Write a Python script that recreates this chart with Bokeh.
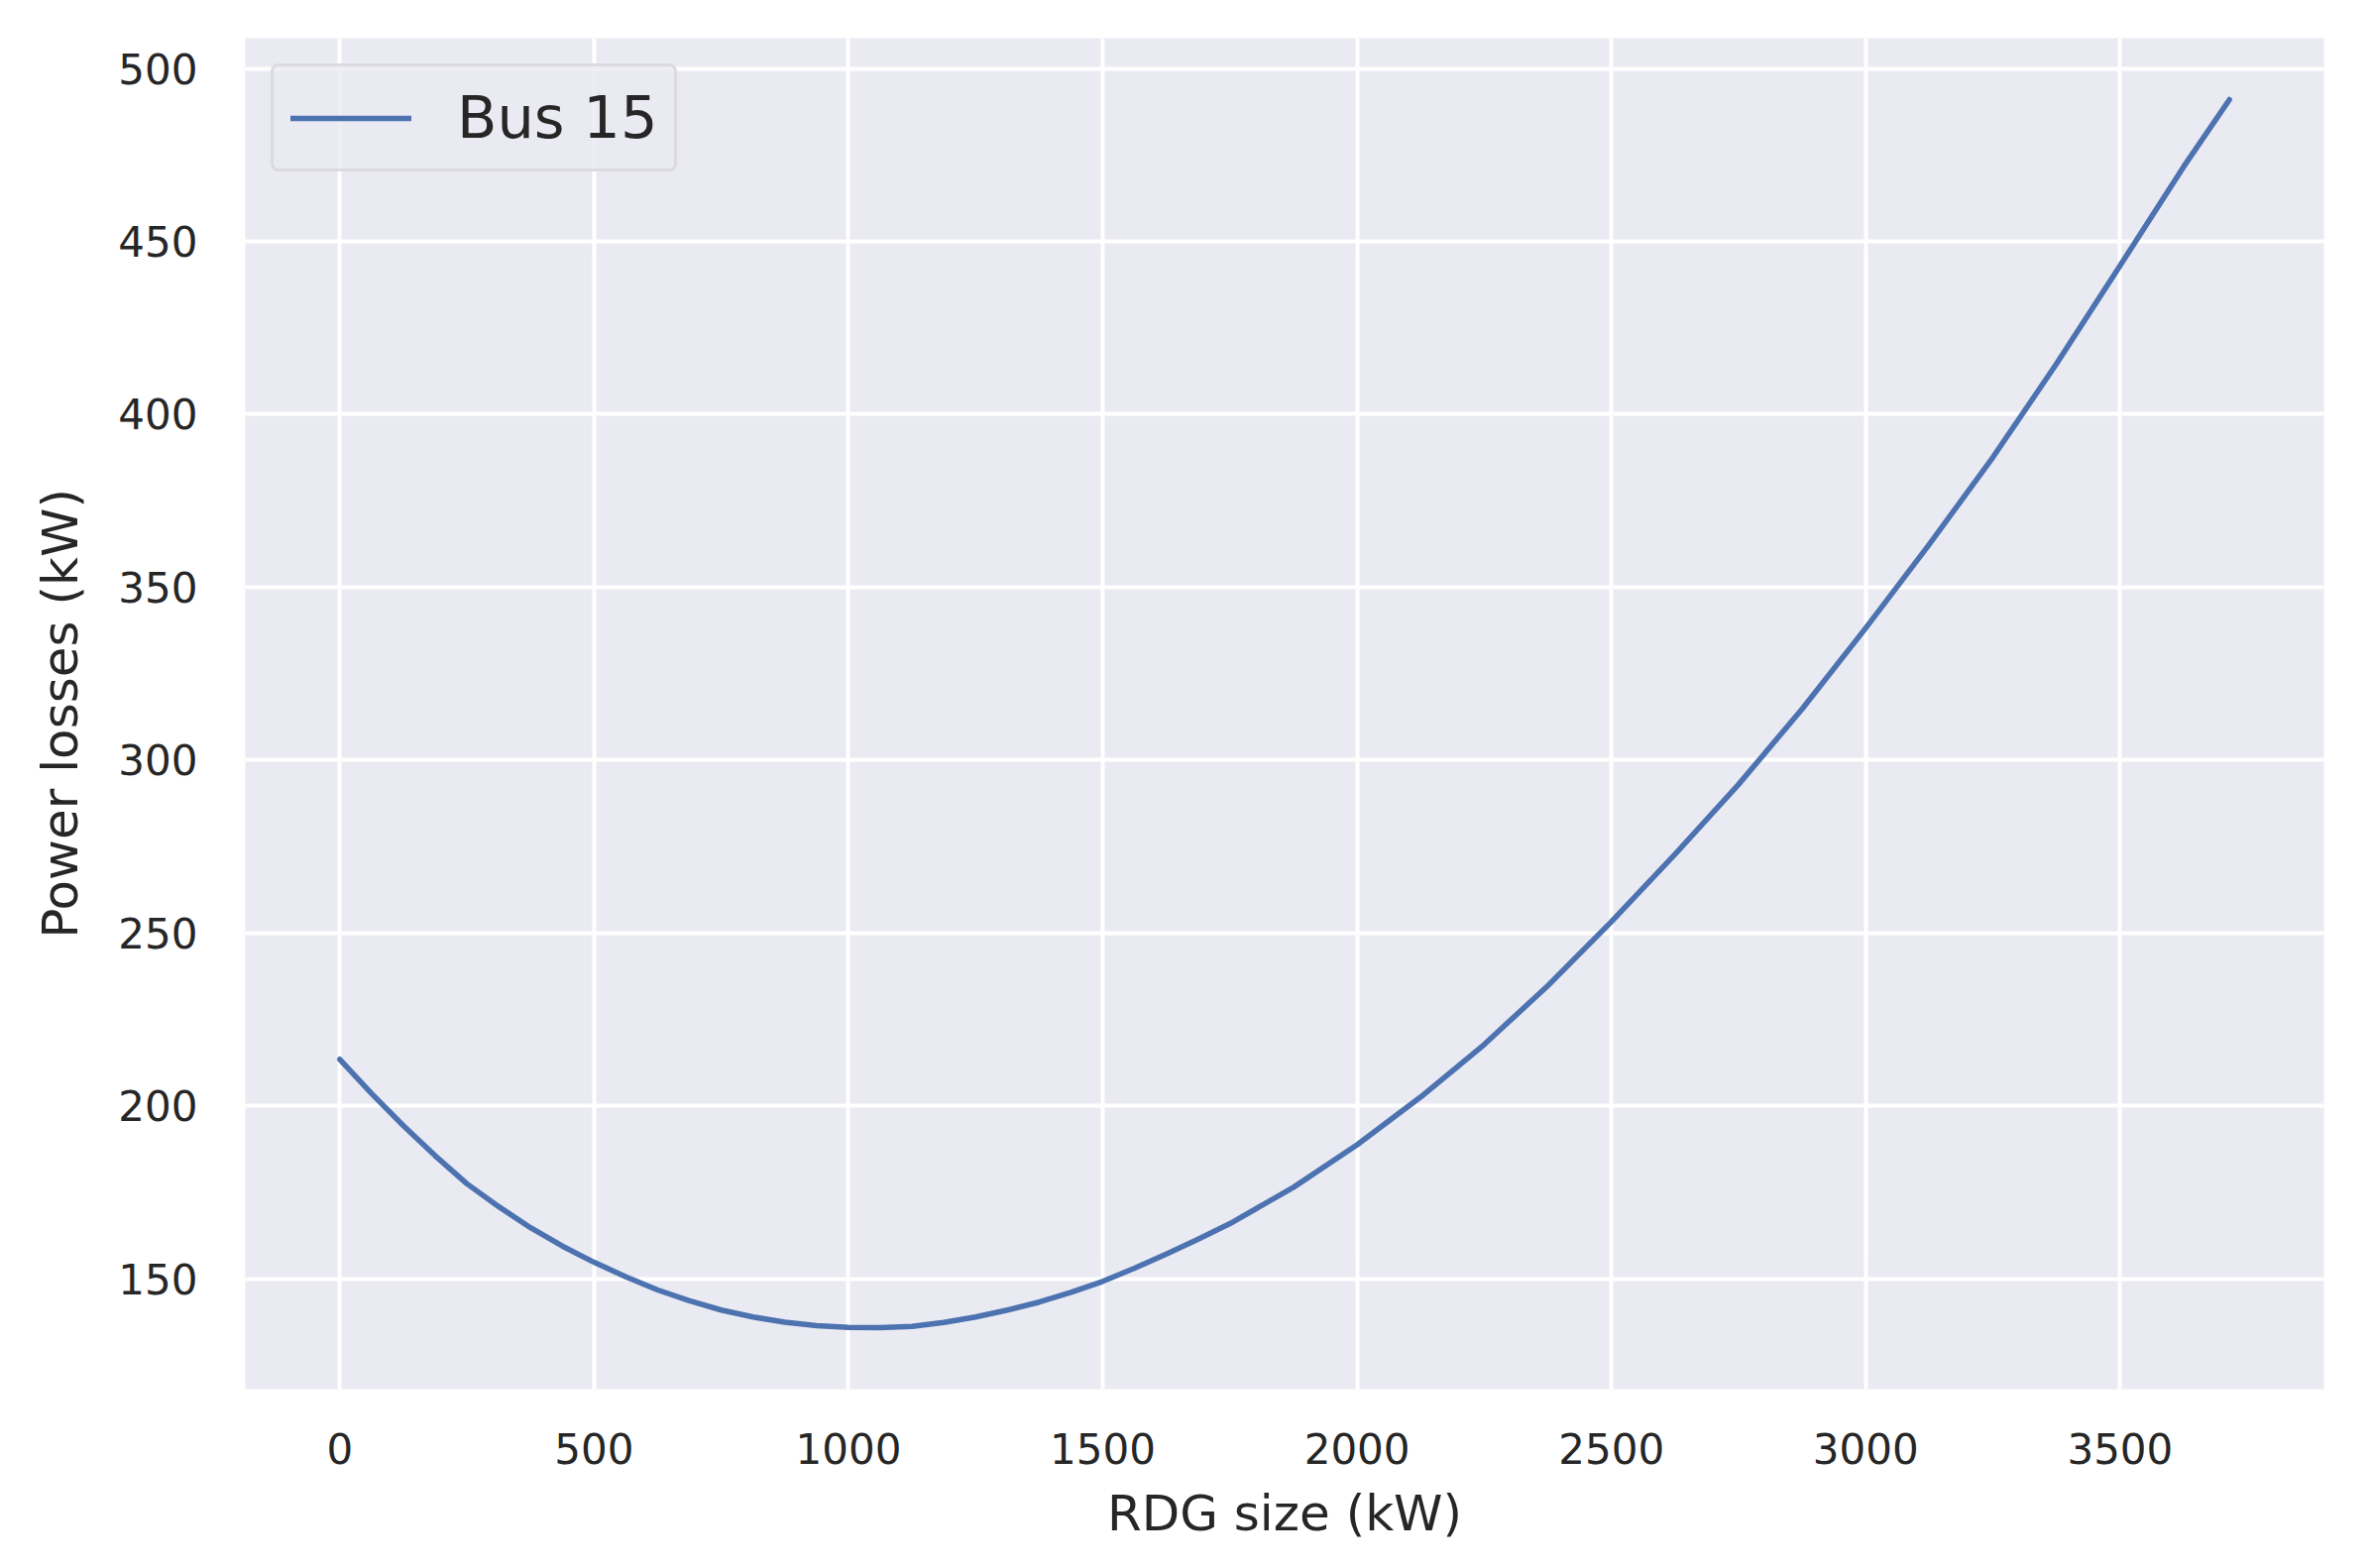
from bokeh.plotting import figure
from bokeh.models import Range1d, FixedTicker, Legend, LegendItem
from bokeh.embed import file_html
from bokeh.resources import INLINE

# Data
rdg_size_kw = [0, 62.5, 125, 187.5, 250, 312.5, 375, 437.5, 500, 562.5, 625,
               687.5, 750, 812.5, 875, 937.5, 1000, 1062.5, 1125, 1187.5,
               1250, 1312.5, 1375, 1437.5, 1500, 1562.5, 1625, 1687.5, 1750,
               1875, 2000, 2125, 2250, 2375, 2500, 2625, 2750, 2875, 3000,
               3125, 3250, 3375, 3500, 3625, 3715]
power_losses_kw = [213.5, 203.6, 194.3, 185.6, 177.5, 170.9, 164.8, 159.5,
                   154.8, 150.6, 146.8, 143.7, 141.0, 139.0, 137.5, 136.5,
                   136.0, 135.9, 136.3, 137.4, 139.0, 141.0, 143.3, 146.1,
                   149.3, 153.1, 157.2, 161.5, 166.0, 176.5, 188.8, 202.6,
                   217.8, 234.8, 253.3, 272.8, 293.0, 314.8, 338.2, 362.4,
                   387.6, 414.6, 443.0, 471.6, 491.0]
series_label = "Bus 15"
x_ticks = [0, 500, 1000, 1500, 2000, 2500, 3000, 3500]
y_ticks = [150, 200, 250, 300, 350, 400, 450, 500]

FONT = "DejaVu Sans"
TXT = "#262626"
BG = "#EAEAF2"
BLUE = "#4C72B0"

xspan = max(rdg_size_kw) - min(rdg_size_kw)
yspan = max(power_losses_kw) - min(power_losses_kw)

p = figure(
    frame_width=2097, frame_height=1363,
    min_border_left=247, min_border_right=41,
    min_border_top=38, min_border_bottom=170,
    x_range=Range1d(min(rdg_size_kw) - 0.05 * xspan, max(rdg_size_kw) + 0.05 * xspan),
    y_range=Range1d(min(power_losses_kw) - 0.05 * yspan, max(power_losses_kw) + 0.05 * yspan),
    output_backend="svg", toolbar_location=None,
)
p.background_fill_color = BG
p.border_fill_color = "white"
p.outline_line_color = None

for ax in (p.xaxis[0], p.yaxis[0]):
    ax.axis_line_color = None
    ax.major_tick_line_color = None
    ax.minor_tick_line_color = None
    ax.major_tick_in = 0
    ax.major_tick_out = 0
    ax.minor_tick_in = 0
    ax.minor_tick_out = 0
    ax.major_label_text_font = FONT
    ax.major_label_text_font_size = "42px"
    ax.major_label_text_color = TXT
    ax.axis_label_text_font = FONT
    ax.axis_label_text_font_size = "50px"
    ax.axis_label_text_font_style = "normal"
    ax.axis_label_text_color = TXT

p.xaxis.ticker = FixedTicker(ticks=x_ticks)
p.yaxis.ticker = FixedTicker(ticks=y_ticks)
p.xaxis.axis_label = "RDG size (kW)"
p.yaxis.axis_label = "Power losses (kW)"
p.xaxis.major_label_standoff = 44
p.yaxis.major_label_standoff = 48
p.xaxis.axis_label_standoff = 18
p.yaxis.axis_label_standoff = 26

p.xgrid.ticker = FixedTicker(ticks=x_ticks)
p.ygrid.ticker = FixedTicker(ticks=y_ticks)
p.grid.grid_line_color = "white"
p.grid.grid_line_width = 4

r = p.line(rdg_size_kw, power_losses_kw, line_color=BLUE, line_width=5.5,
           line_join="round", line_cap="round")

legend = Legend(items=[LegendItem(label=series_label, renderers=[r])],
                location="top_left")
legend.margin = 26
legend.padding = 17
legend.glyph_width = 122
legend.glyph_height = 30
legend.label_standoff = 46
legend.label_text_font = FONT
legend.label_text_font_size = "59px"
legend.label_text_color = TXT
legend.background_fill_color = BG
legend.background_fill_alpha = 0.8
legend.border_line_color = "#CCCCCC"
legend.border_line_width = 3
legend.border_radius = 8
p.add_layout(legend, "center")

open("out.html", "w").write(file_html(p, INLINE))
